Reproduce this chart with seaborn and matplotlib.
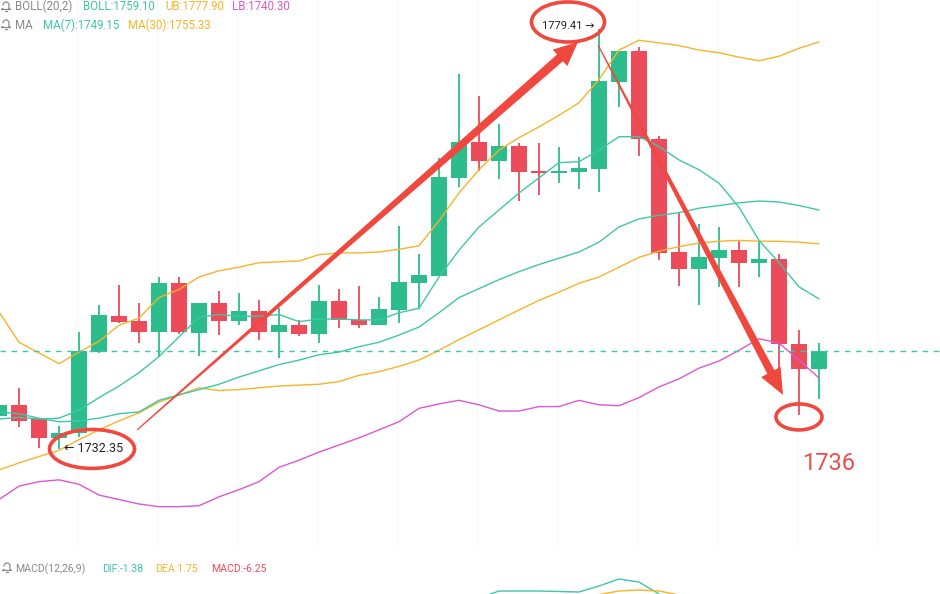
import numpy as np
import pandas as pd
import matplotlib
matplotlib.use('Agg')
import matplotlib.pyplot as plt
import seaborn as sns
from matplotlib.patches import Ellipse, Polygon
from matplotlib.transforms import IdentityTransform

# candle data
opens = [1736.05, 1737.28, 1735.71, 1733.59, 1734.15, 1743.21, 1747.24, 1746.68, 1745.45, 1750.93,
         1745.34, 1748.69, 1746.68, 1747.80, 1745.45, 1746.23, 1745.23, 1748.92, 1746.79, 1746.23,
         1747.91, 1750.93, 1751.72, 1762.68, 1766.71, 1764.58, 1766.26, 1763.47, 1763.24, 1763.35,
         1763.69, 1773.42, 1776.89, 1767.05, 1754.40, 1752.50, 1753.73, 1754.62, 1753.17, 1753.62,
         1744.11, 1741.31]
highs = [1737.50, 1739.18, 1735.71, 1734.93, 1745.45, 1748.47, 1750.71, 1748.69, 1751.60, 1751.60,
         1748.69, 1750.04, 1749.81, 1749.03, 1748.13, 1746.79, 1750.71, 1750.26, 1750.60, 1749.37,
         1757.31, 1754.18, 1764.92, 1774.32, 1771.86, 1768.72, 1766.60, 1766.60, 1766.15, 1765.03,
         1779.41, 1776.89, 1777.34, 1767.38, 1758.77, 1757.53, 1757.20, 1755.74, 1755.52, 1754.18,
         1745.67, 1744.22]
lows = [1735.83, 1734.82, 1732.47, 1732.35, 1733.70, 1743.10, 1746.46, 1744.22, 1742.65, 1745.23,
        1742.76, 1745.11, 1746.23, 1744.55, 1742.54, 1745.00, 1744.22, 1745.90, 1745.90, 1746.23,
        1746.46, 1748.02, 1751.72, 1761.67, 1763.47, 1762.57, 1760.11, 1760.78, 1762.12, 1761.45,
        1761.12, 1770.63, 1765.14, 1753.51, 1750.60, 1748.47, 1750.48, 1750.48, 1751.60, 1741.20,
        1736.16, 1737.95]
closes = [1737.28, 1735.49, 1733.59, 1734.15, 1743.32, 1747.35, 1746.57, 1745.45, 1750.93, 1745.45,
          1748.69, 1746.68, 1747.80, 1745.45, 1746.23, 1745.23, 1748.92, 1746.79, 1746.23, 1748.02,
          1751.04, 1751.83, 1762.79, 1766.71, 1764.58, 1766.26, 1763.35, 1763.24, 1763.47, 1763.80,
          1773.54, 1776.89, 1767.05, 1754.29, 1752.50, 1753.84, 1754.62, 1753.17, 1753.62, 1744.11,
          1741.31, 1743.32]

# indicator lines
boll_ub = [1747.7, 1744.3, 1743.1, 1741.9, 1743.2, 1744.4, 1746.2, 1747.0, 1749.3, 1750.2,
           1751.6, 1752.3, 1752.7, 1753.2, 1753.3, 1753.4, 1754.1, 1754.3, 1754.3, 1754.4,
           1754.7, 1755.1, 1757.9, 1761.0, 1763.6, 1765.8, 1767.2, 1768.4, 1769.7, 1771.1,
           1773.7, 1777.0, 1778.1, 1777.8, 1777.5, 1777.0, 1776.7, 1776.2, 1775.8, 1776.3,
           1777.2, 1777.9]
boll_mid = [1736.5, 1736.3, 1735.8, 1735.4, 1735.5, 1735.8, 1736.3, 1736.5, 1737.8, 1738.4,
            1739.0, 1739.6, 1740.4, 1741.1, 1741.8, 1742.3, 1742.9, 1743.2, 1743.8, 1744.3,
            1745.1, 1746.0, 1747.6, 1749.3, 1750.3, 1751.3, 1752.2, 1753.0, 1753.7, 1754.4,
            1755.5, 1757.2, 1758.1, 1758.5, 1758.8, 1759.3, 1759.6, 1759.9, 1760.1, 1760.0,
            1759.6, 1759.1]
boll_lb = [1726.7, 1728.2, 1728.7, 1728.9, 1728.4, 1727.2, 1726.7, 1726.2, 1725.9, 1725.9,
           1726.0, 1727.0, 1727.8, 1728.7, 1730.3, 1731.1, 1732.0, 1732.8, 1733.6, 1734.5,
           1735.4, 1736.9, 1737.4, 1737.8, 1737.3, 1736.6, 1736.6, 1737.1, 1737.1, 1737.8,
           1737.3, 1737.2, 1738.1, 1739.3, 1740.2, 1741.4, 1742.2, 1743.4, 1744.7, 1744.2,
           1742.3, 1740.3]
ma7 = [1735.7, 1735.9, 1735.7, 1735.8, 1736.7, 1738.1, 1739.4, 1740.9, 1742.7, 1744.9,
       1747.1, 1747.4, 1747.2, 1747.2, 1747.4, 1746.6, 1746.9, 1746.9, 1746.8, 1746.8,
       1747.6, 1748.1, 1751.6, 1754.6, 1757.2, 1759.1, 1761.0, 1762.7, 1764.4, 1764.5,
       1765.8, 1767.3, 1767.3, 1766.2, 1764.7, 1763.6, 1762.1, 1759.4, 1755.7, 1753.2,
       1750.5, 1749.15]
ma30 = [1730.0, 1730.8, 1731.5, 1732.2, 1733.4, 1734.5, 1735.5, 1736.4, 1737.6, 1738.4,
        1739.2, 1738.9, 1739.0, 1739.2, 1739.4, 1739.5, 1739.6, 1739.9, 1740.6, 1741.0,
        1741.6, 1742.3, 1743.4, 1744.6, 1745.7, 1746.8, 1747.9, 1749.0, 1749.9, 1750.9,
        1751.6, 1752.7, 1753.8, 1754.5, 1755.0, 1755.4, 1755.6, 1755.7, 1755.6, 1755.6,
        1755.5, 1755.3]

# MACD panel (only the top of it is visible)
macd_idx = list(range(24, 42))
dif = [3.4, 4.1, 4.1, 4.1, 4.05, 4.0, 4.6, 5.3, 5.0, 3.8, 2.2, 1.3, 0.8, 0.4, 0.2, -0.6, -1.2, -1.38]
dea = [3.0, 3.2, 3.4, 3.5, 3.6, 3.65, 3.75, 4.1, 4.2, 4.1, 3.7, 3.3, 2.9, 2.6, 2.3, 2.1, 1.9, 1.75]

UP = '#2dbd8c'
DOWN = '#ec4b5a'
TEAL = '#3ec7a6'
ORANGE = '#f5b42a'
PINK = '#dc58cf'
MARK = '#f0483e'
GREY = '#8a8a8a'

W, H = 940, 594

sns.set_style('white')
plt.rcParams['font.family'] = ['Roboto', 'DejaVu Sans']

fig = plt.figure(figsize=(W / 100, H / 100), dpi=100)
fig.patch.set_facecolor('white')

# price panel
ax = fig.add_axes([0, 1 - 550 / H, 1, 550 / H])
ax.set_xlim(0.05, 47.05)
ax.set_ylim(1721.05, 1782.60)
ax.axis('off')

idx = np.arange(len(closes))
o = np.array(opens)
c = np.array(closes)
cols = [UP if cc >= oo else DOWN for oo, cc in zip(o, c)]

# barely visible grid
for gx in np.arange(3.9, 47, 4):
    ax.axvline(gx, color='#f9f9f9', lw=0.8, zorder=0)

ax.vlines(idx, lows, highs, colors=cols, lw=1.3, zorder=2)
body_bot = np.minimum(o, c)
body_h = np.maximum(np.abs(c - o), 0.2)
ax.bar(idx, body_h, bottom=body_bot, width=0.8, color=cols, linewidth=0, zorder=3)

# indicator lines
for series, col in [(boll_ub, ORANGE), (ma30, ORANGE), (boll_mid, TEAL), (ma7, TEAL), (boll_lb, PINK)]:
    sns.lineplot(x=idx, y=series, ax=ax, color=col, lw=1.0, legend=False, zorder=4)

ax.axhline(closes[-1], color=TEAL, lw=1.0, ls=(0, (4, 4)), zorder=4)

# macd panel
ax2 = fig.add_axes([0, (H - 700) / H, 1, 140 / H])
ax2.set_xlim(0.05, 47.05)
ax2.set_ylim(-6.8, 7.2)
ax2.axis('off')
sns.lineplot(x=macd_idx, y=dif, ax=ax2, color=TEAL, lw=1.0, legend=False)
sns.lineplot(x=macd_idx, y=dea, ax=ax2, color=ORANGE, lw=1.0, legend=False)


def taper_arrow(p0, p1, w0, w1, head_len, head_w):
    d0 = ax.transData.transform(p0)
    d1 = ax.transData.transform(p1)
    v = d1 - d0
    u = v / np.hypot(*v)
    n = np.array([-u[1], u[0]])
    base = d1 - u * head_len
    pts = [d0 + n * w0 / 2, base + n * w1 / 2, base + n * head_w / 2, d1,
           base - n * head_w / 2, base - n * w1 / 2, d0 - n * w0 / 2]
    pts = ax.transData.inverted().transform(np.array(pts))
    ax.add_patch(Polygon(pts, closed=True, color=MARK, lw=0, zorder=6))


# hand drawn marks
taper_arrow((6.9, 1734.48), (28.95, 1777.9), 1.2, 9, 24, 22)
taper_arrow((29.95, 1777.56), (39.2, 1738.40), 1.2, 8, 26, 22)

for (ex, ey, ew, eh) in [(28.45, 1780.14, 3.65, 4.48), (4.65, 1732.36, 4.25, 4.36), (40.0, 1735.94, 2.3, 2.91)]:
    ax.add_patch(Ellipse((ex, ey), ew, eh, fill=False, ec=MARK, lw=2.6, zorder=7))

ax.text(27.15, 1779.69, '1779.41 \u2192', fontsize=8, color='#222222', ha='left', va='center', zorder=8)
ax.text(3.25, 1732.36, '\u2190 1732.35', fontsize=9, color='#222222', ha='left', va='center', zorder=8)
ax.text(40.15, 1730.68, '1736', fontsize=17, color='#e8504a', ha='left', va='center', zorder=8)


def bell(px, py):
    # small outline bell in figure pixels
    t = np.linspace(0, np.pi, 20)
    xs = list(px - 3 * np.cos(t)) + [px + 3, px + 4.5, px - 4.5, px - 3]
    ys = list(py - 1 - 3 * np.sin(t)) + [py + 2.5, py + 3.5, py + 3.5, py + 2.5]
    xs = np.array(xs)
    ys = H - np.array(ys)
    fig.add_artist(plt.Line2D(xs, ys, transform=IdentityTransform(), color=GREY, lw=0.9))
    fig.add_artist(plt.Line2D([px - 1.2, px + 1.2], [H - py - 5, H - py - 5], transform=IdentityTransform(), color=GREY, lw=0.9))


def label(px, py, s, col, size=8.3):
    # py is the text baseline in pixels from the top
    fig.text(px / W, 1 - py / H, s, color=col, fontsize=size, ha='left', va='baseline')


bell(6, 6)
label(15, 10.5, 'BOLL(20,2)', GREY)
label(83, 10.5, 'BOLL:1759.10', TEAL)
label(165, 10.5, 'UB:1777.90', ORANGE)
label(232, 10.5, 'LB:1740.30', PINK)

bell(6, 24)
label(15, 29, 'MA', GREY)
label(43, 29, 'MA(7):1749.15', TEAL)
label(128, 29, 'MA(30):1755.33', ORANGE)

bell(7, 567)
label(15, 572.5, 'MACD(12,26,9)', GREY, 7.6)
label(102, 572.5, 'DIF:-1.38', TEAL, 7.6)
label(155, 572.5, 'DEA:1.75', ORANGE, 7.6)
label(211, 572.5, 'MACD:-6.25', DOWN, 7.6)

plt.savefig('out.png', dpi=100)
